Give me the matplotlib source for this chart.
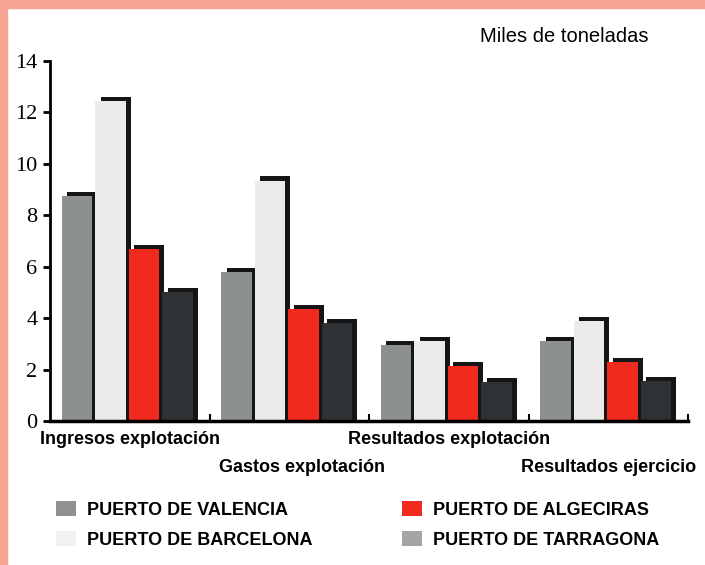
import matplotlib.pyplot as plt
from matplotlib.patches import Patch
import numpy as np

categorias = ['Ingresos explotación', 'Gastos explotación',
              'Resultados explotación', 'Resultados ejercicio']
puertos = ['PUERTO DE VALENCIA', 'PUERTO DE BARCELONA',
           'PUERTO DE ALGECIRAS', 'PUERTO DE TARRAGONA']

valencia = [8.75, 5.8, 2.95, 3.1]
barcelona = [12.45, 9.35, 3.1, 3.9]
algeciras = [6.7, 4.35, 2.15, 2.3]
tarragona = [5.0, 3.8, 1.5, 1.55]
yticks = [0, 2, 4, 6, 8, 10, 12, 14]

series = [valencia, barcelona, algeciras, tarragona]
colores = ['#8c908e', '#ebebe9', '#f02a1e', '#2f3235']
leyenda_col = ['#8f9290', '#f1f1ef', '#f02a1e', '#a3a5a4']

fig = plt.figure(figsize=(7.05, 5.65), dpi=100)
fig.patch.set_facecolor('white')
# marco salmon arriba e izquierda (escaneo)
fig.patches.append(plt.Rectangle((0, 1 - 8 / 565), 1, 8 / 565, transform=fig.transFigure,
                                 color='#f9a595', zorder=0))
fig.patches.append(plt.Rectangle((0, 0), 7 / 705, 1, transform=fig.transFigure,
                                 color='#f9a595', zorder=0))

ax = fig.add_axes([50 / 705, 1 - 421 / 565, 638 / 705, 360 / 565])
ax.set_xlim(0, 4)
ax.set_ylim(0, 14)

x = np.arange(len(categorias))
ancho = 0.19
paso = 0.21
dx, dy = 0.032, 0.16
for k, (vals, c) in enumerate(zip(series, colores)):
    pos = x + 0.485 + (k - 1.5) * paso
    vals = np.array(vals)
    ax.bar(pos + dx, vals + dy, width=ancho, color='#151515', zorder=2)
    ax.bar(pos, vals, width=ancho, color=c, zorder=3)

for s in ['top', 'right']:
    ax.spines[s].set_visible(False)
ax.spines['left'].set_linewidth(2)
ax.spines['left'].set_bounds(0, 14)
ax.spines['bottom'].set_linewidth(2.5)
ax.spines['bottom'].set_zorder(5)

ax.set_yticks(yticks)
ax.set_yticklabels([str(v) for v in yticks], family='Liberation Serif', fontsize=16)
ax.tick_params(axis='y', direction='out', length=5, width=2, pad=4)
ax.set_xticks([1, 2, 3, 4])
ax.set_xticklabels([])
ax.tick_params(axis='x', direction='in', length=5, width=1.5)

pos_lab = [0.5, 1.58, 2.5, 3.5]
for i, (lab, px) in enumerate(zip(categorias, pos_lab)):
    off = -19 if i % 2 == 0 else -46
    ax.annotate(lab, xy=(px, 0), xycoords=('data', 'axes fraction'),
                xytext=(0, off * 0.72), textcoords='offset points',
                ha='center', va='center', fontsize=13, fontweight='bold',
                family='Liberation Sans')

fig.text(648 / 705, 1 - 37 / 565, 'Miles de toneladas', ha='right', va='center',
         fontsize=14.5, family='Liberation Sans')

handles = [Patch(facecolor=c, edgecolor='none') for c in leyenda_col]
fig.legend(handles, puertos, ncol=2, loc='upper left',
           bbox_to_anchor=(40 / 705, 1 - 485 / 565), frameon=False,
           prop={'family': 'Liberation Sans', 'weight': 'bold', 'size': 13},
           handlelength=1.1, handleheight=0.85, handletextpad=0.6,
           columnspacing=4.95, labelspacing=0.7)

fig.savefig('out.png', dpi=100)
